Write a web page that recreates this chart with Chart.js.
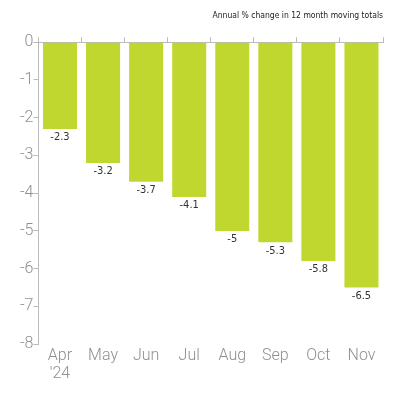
<!DOCTYPE html>
<html>
<head>
<meta charset="utf-8">
<script src="https://cdn.jsdelivr.net/npm/chart.js@4"></script>
<style>
  html, body { margin: 0; padding: 0; background: #fff; }
  #wrap { width: 400px; height: 400px; }
</style>
</head>
<body>
<div id="wrap"><canvas id="grafico"></canvas></div>
<script>
// datos
const meses = [["Apr", "'24"], "May", "Jun", "Jul", "Aug", "Sep", "Oct", "Nov"];
const valores = [-2.3, -3.2, -3.7, -4.1, -5, -5.3, -5.8, -6.5];
const titulo = "Annual % change in 12 month moving totals";

// etiquetas de valor bajo cada barra
const etiquetasBarras = {
    id: "etiquetasBarras",
    afterDatasetsDraw(chart) {
        const ctx = chart.ctx;
        const meta = chart.getDatasetMeta(0);
        ctx.save();
        ctx.font = "11px 'Liberation Sans Narrow', 'DejaVu Sans Condensed', sans-serif";
        ctx.fillStyle = "#333";
        ctx.textAlign = "center";
        ctx.textBaseline = "top";
        meta.data.forEach((bar, i) => {
            ctx.fillText(String(valores[i]), bar.x, bar.y + 3);
        });
        ctx.restore();
    }
};

const ctx = document.getElementById("grafico").getContext("2d");

new Chart(ctx, {
    type: "bar",
    data: {
        labels: meses,
        datasets: [{
            data: valores,
            backgroundColor: "#c0d72f",
            borderWidth: 0,
            barPercentage: 0.79,
            categoryPercentage: 1.0
        }]
    },
    options: {
        responsive: true,
        maintainAspectRatio: false,
        animation: false,
        layout: { padding: { left: 20, right: 17, top: 2, bottom: 22 } },
        plugins: {
            legend: { display: false },
            tooltip: { enabled: false },
            title: {
                display: true,
                text: titulo,
                align: "end",
                color: "#222",
                font: { family: "'Liberation Sans Narrow', 'DejaVu Sans Condensed', sans-serif", size: 8.5, weight: "normal" },
                padding: { top: 9, bottom: 16 }
            }
        },
        scales: {
            x: {
                position: "bottom",
                grid: { display: false },
                border: { display: false },
                ticks: {
                    color: "#8f8f8f",
                    font: { family: "Roboto, 'Liberation Sans', sans-serif", size: 16, weight: 300, lineHeight: 1.12 },
                    padding: -5,
                    maxRotation: 0
                }
            },
            x2: {
                type: "category",
                labels: meses,
                position: "top",
                offset: true,
                grid: { drawOnChartArea: false, tickLength: 5, color: "#bbb" },
                border: { display: true, color: "#bbb" },
                ticks: { display: false }
            },
            y: {
                min: -8,
                max: 0,
                grid: { drawOnChartArea: false, tickLength: 5, color: "#bbb" },
                border: { display: true, color: "#bbb" },
                ticks: {
                    stepSize: 1,
                    color: "#8f8f8f",
                    font: { family: "Roboto, 'Liberation Sans', sans-serif", size: 16, weight: 300 },
                    padding: 0
                }
            }
        }
    },
    plugins: [etiquetasBarras]
});
</script>
</body>
</html>
